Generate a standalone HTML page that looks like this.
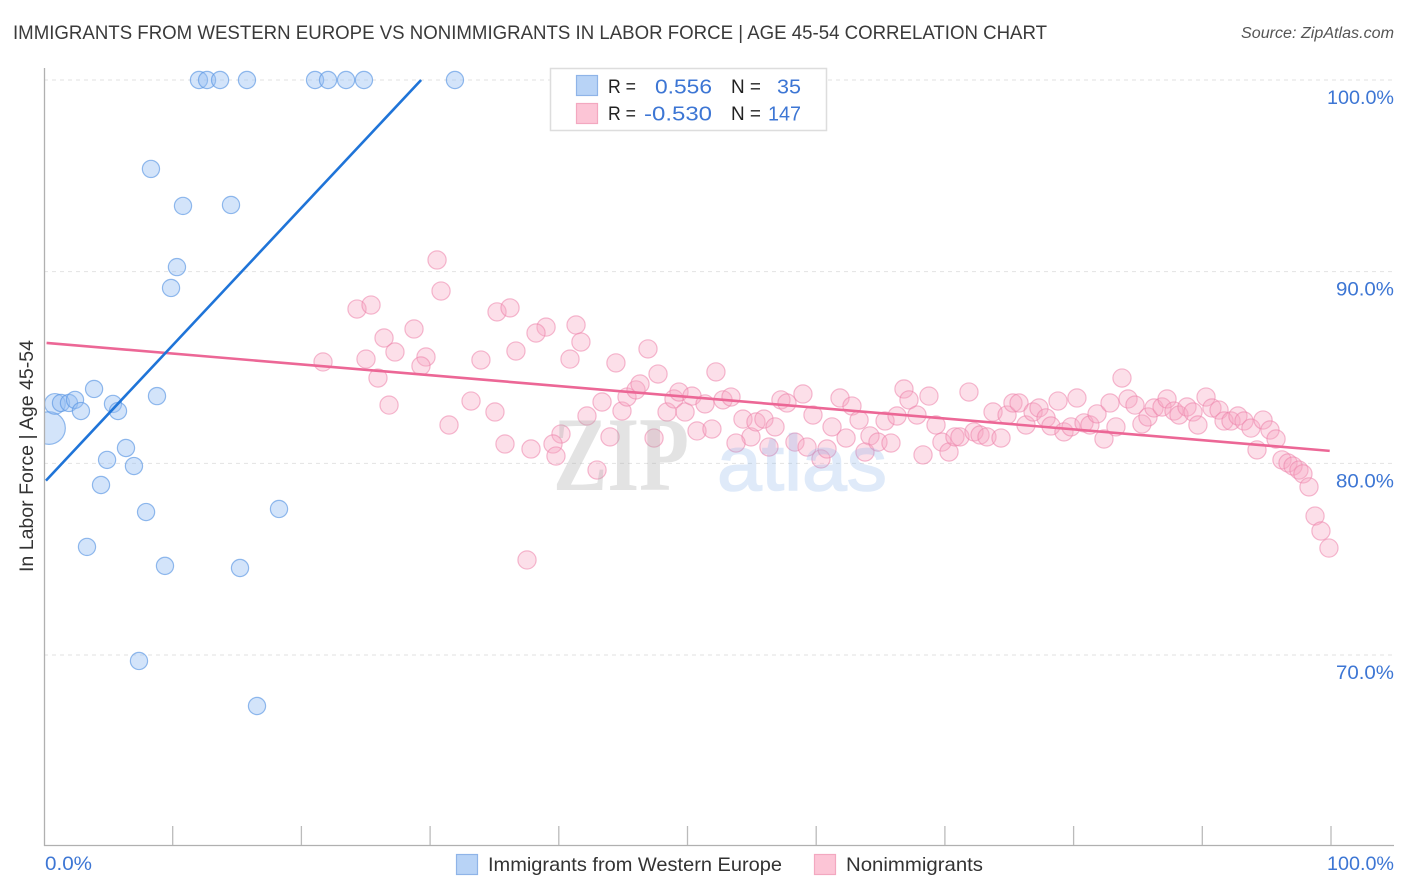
<!DOCTYPE html>
<html>
<head>
<meta charset="utf-8">
<title>Immigrants from Western Europe vs Nonimmigrants in Labor Force Correlation Chart</title>
<style>
html,body{margin:0;padding:0;background:#fff}
svg{display:block;font-family:"Liberation Sans",sans-serif}
</style>
</head>
<body>
<svg id="chart" xmlns="http://www.w3.org/2000/svg" width="1406" height="892" viewBox="0 0 1406 892">
<rect width="1406" height="892" fill="#fff"/>
<g id="grid"></g>
<g id="marks"></g>
<g>
<text x="553" y="490" font-family="'Liberation Serif',serif" font-size="106" font-weight="bold" fill="rgba(170,170,170,0.33)" textLength="136" lengthAdjust="spacingAndGlyphs">ZIP</text>
<text x="717" y="490" font-size="78" fill="#82afeb" stroke="#82afeb" stroke-width="1.5" opacity="0.25" textLength="170" lengthAdjust="spacingAndGlyphs">atlas</text>
</g>
<rect x="0" y="60" width="44" height="790" fill="#fff"/>
<text x="13" y="39" font-size="19.5" fill="#3a3a3a" textLength="1034" lengthAdjust="spacingAndGlyphs">IMMIGRANTS FROM WESTERN EUROPE VS NONIMMIGRANTS IN LABOR FORCE | AGE 45-54 CORRELATION CHART</text>
<text x="1394" y="38" font-size="15.5" font-style="italic" fill="#555" text-anchor="end" textLength="153" lengthAdjust="spacingAndGlyphs">Source: ZipAtlas.com</text>
<g id="axes"></g>
<text transform="translate(33,456) rotate(-90)" font-size="19" fill="#333" text-anchor="middle" textLength="232" lengthAdjust="spacingAndGlyphs">In Labor Force | Age 45-54</text>
<g>
<rect x="550.5" y="68.5" width="276" height="62" fill="#fff" stroke="#ddd" stroke-width="1.5"/>
<rect x="576.5" y="75.5" width="21" height="20" fill="#b8d3f6" stroke="#8fb4e8" stroke-width="1.2"/>
<rect x="576.5" y="103.5" width="21" height="20" fill="#fcc5d6" stroke="#f3a8c0" stroke-width="1.2"/>
<text x="608" y="93" font-size="19" fill="#222" textLength="28" lengthAdjust="spacingAndGlyphs">R =</text>
<text x="655" y="93.5" font-size="20" fill="#3d76d4" textLength="57" lengthAdjust="spacingAndGlyphs">0.556</text>
<text x="731" y="93" font-size="19" fill="#222" textLength="30" lengthAdjust="spacingAndGlyphs">N =</text>
<text x="777" y="93.5" font-size="20" fill="#3d76d4" textLength="24" lengthAdjust="spacingAndGlyphs">35</text>
<text x="608" y="120" font-size="19" fill="#222" textLength="28" lengthAdjust="spacingAndGlyphs">R =</text>
<text x="644" y="120.5" font-size="20" fill="#3d76d4" textLength="68" lengthAdjust="spacingAndGlyphs">-0.530</text>
<text x="731" y="120" font-size="19" fill="#222" textLength="30" lengthAdjust="spacingAndGlyphs">N =</text>
<text x="768" y="120.5" font-size="20" fill="#3d76d4" textLength="33" lengthAdjust="spacingAndGlyphs">147</text>
</g>
<g>
<rect x="456.5" y="854.5" width="21" height="20" fill="#b8d3f6" stroke="#8fb4e8" stroke-width="1.2"/>
<text x="488" y="871" font-size="19.5" fill="#333" textLength="294" lengthAdjust="spacingAndGlyphs">Immigrants from Western Europe</text>
<rect x="814.5" y="854.5" width="21" height="20" fill="#fcc5d6" stroke="#f3a8c0" stroke-width="1.2"/>
<text x="846" y="871" font-size="19.5" fill="#333" textLength="137" lengthAdjust="spacingAndGlyphs">Nonimmigrants</text>
</g>
</svg>
<script>
var blueX = [0.39,0.85,1.32,1.94,2.41,2.87,3.89,5.36,5.75,8.78,6.37,4.90,6.99,4.43,7.93,18.26,3.34,9.40,15.23,7.38,16.55,8.31,10.80,14.53,10.33,9.87,12.04,12.67,13.68,15.77,21.06,22.07,23.47,24.86,31.93];
var blueY = [81.84,83.10,83.15,83.15,83.31,82.73,83.88,83.10,82.73,83.51,80.80,80.18,79.86,78.87,77.46,77.62,75.64,74.65,74.54,69.69,67.34,95.36,93.43,93.48,90.24,89.15,100,100,100,100,100,100,100,100,100];
var blueWeight = [3.6,1.45,1,1,1,1,1,1,1,1,1,1,1,1,1,1,1,1,1,1,1,1,1,1,1,1,1,1,1,1,1,1,1,1,1];
var pinkX = [30.54,30.85,24.32,25.41,35.20,36.21,28.75,39.01,38.23,41.34,26.42,41.72,27.27,21.68,25.02,29.68,29.29,33.95,36.67,40.87,44.44,46.93,25.95,26.81,33.18,35.04,31.47,35.82,37.84,40.17,39.55,39.78,37.53,42.19,43.36,43.98,42.97,44.91,45.30,46.00,46.31,47.40,47.71,48.41,48.95,49.34,49.81,50.35,51.36,50.74,51.90,52.21,52.76,53.38,54.31,54.93,53.77,55.32,55.94,56.33,56.80,57.26,57.73,58.97,58.35,59.29,60.37,60.84,59.75,61.23,61.85,62.32,62.78,63.33,64.18,63.79,64.80,65.35,65.81,66.28,66.82,67.21,67.83,68.76,69.31,69.77,70.32,68.30,70.78,71.17,71.87,72.26,72.73,73.27,74.36,73.74,74.83,75.29,75.76,76.30,76.85,77.31,77.86,78.24,78.79,79.25,79.80,80.26,80.81,81.27,81.82,82.36,82.83,83.29,83.76,84.23,84.77,85.31,85.78,86.25,86.87,87.26,87.80,88.19,88.81,89.28,89.66,90.29,90.75,91.30,91.69,92.23,92.77,93.24,93.78,94.72,94.25,95.26,95.73,96.19,96.66,97.05,97.51,97.82,98.29,98.76,99.22,99.84];
var pinkY = [90.61,88.99,88.05,88.26,87.90,88.11,87.01,87.11,86.80,87.22,86.54,86.33,85.81,85.29,85.44,85.55,85.08,85.39,85.86,85.44,85.24,85.97,84.45,83.04,83.25,82.68,82.00,81.01,80.75,81.53,81.01,80.38,74.96,82.47,83.20,81.38,79.65,82.73,83.46,83.83,84.14,81.32,84.66,82.68,83.36,83.72,82.68,83.51,83.10,81.69,81.79,84.77,83.31,83.46,82.31,81.38,81.06,82.16,82.31,80.85,81.90,83.31,83.15,83.62,81.11,80.85,80.23,80.75,82.52,81.90,83.41,81.32,82.99,82.26,81.43,80.59,81.11,82.21,81.06,82.47,83.88,83.31,82.52,83.51,82.00,81.11,80.59,80.44,81.38,81.38,83.72,81.64,81.48,81.38,81.32,82.68,82.52,83.15,83.15,82.00,82.68,82.89,82.37,81.95,83.25,81.64,81.90,83.41,82.11,82.00,82.58,81.27,83.15,81.90,84.45,83.36,83.04,82.05,82.42,82.89,82.94,83.36,82.73,82.52,82.94,82.68,82.00,83.46,82.89,82.78,82.21,82.21,82.47,82.21,81.84,82.26,80.70,81.74,81.27,80.18,80.02,79.86,79.65,79.45,78.77,77.25,76.47,75.58];
var blueTrendX = [0.15,29.3];
var blueTrendY = [79.1,100];
var pinkTrendX = [0.2,99.9];
var pinkTrendY = [86.28,80.65];
var yTicks = [100,90,80,70];
var yTickLabels = ["100.0%","90.0%","80.0%","70.0%"];
var xTicks = [0,10,20,30,40,50,60,70,80,90,100];
var xEndTicks = [0,100];
var xEndLabels = ["0.0%","100.0%"];

function xScale(v){ return 44 + v * 12.87; }
function yScale(v){ return 80 + (100 - v) * 19.167; }
var NS = "http://www.w3.org/2000/svg";
function make(tag, parent, attrs){
  var el = document.createElementNS(NS, tag);
  for (var k in attrs) el.setAttribute(k, attrs[k]);
  parent.appendChild(el);
  return el;
}
var grid = document.getElementById("grid");
var axes = document.getElementById("axes");
var marks = document.getElementById("marks");

yTicks.forEach(function(t, i){
  var line = make("line", grid, {x1:44, x2:1394, y1:yScale(t), y2:yScale(t), stroke:"#e2e2e2", "stroke-width":1, "stroke-dasharray":"4 4"});
  
  
  var label = make("text", axes, {x:1394, y:yScale(t) + 24, "font-size":19.5, fill:"#3d76d4", "text-anchor":"end", textLength: i === 0 ? 67 : 58, lengthAdjust:"spacingAndGlyphs"});
  label.textContent = yTickLabels[i];
  
  
});

var yAxis = make("line", axes, {x1:44.5, x2:44.5, y1:68, y2:846, stroke:"#b0b0b0", "stroke-width":1.3});


var xAxis = make("line", axes, {x1:44, x2:1394, y1:845.5, y2:845.5, stroke:"#b0b0b0", "stroke-width":1.3});



xTicks.forEach(function(t){
  if (t === 0) return;
  var tick = make("line", axes, {x1:xScale(t), x2:xScale(t), y1:826, y2:845, stroke:"#bbb", "stroke-width":1.3});
  
  
});
xEndTicks.forEach(function(t, i){
  var label = make("text", axes, {x: i === 0 ? xScale(t) + 1 : 1394, y:870, "font-size":19.5, fill:"#3d76d4", "text-anchor": i === 0 ? "start" : "end", textLength: i === 0 ? 47 : 67, lengthAdjust:"spacingAndGlyphs"});
  label.textContent = xEndLabels[i];
  
  
});

pinkX.forEach(function(v, i){
  var c = make("circle", marks, {cx:xScale(v), cy:yScale(pinkY[i]), r:9.1, fill:"rgba(248,165,193,0.36)", stroke:"rgba(236,130,170,0.55)", "stroke-width":1.2});
  
  
});
blueX.forEach(function(v, i){
  var c = make("circle", marks, {cx:xScale(v), cy:yScale(blueY[i]), r:8.6 * Math.sqrt(blueWeight[i]), fill:"rgba(150,190,243,0.42)", stroke:"rgba(90,150,228,0.65)", "stroke-width":1.2});
  
  
});
var pinkTrend = make("line", marks, {x1:xScale(pinkTrendX[0]), y1:yScale(pinkTrendY[0]), x2:xScale(pinkTrendX[1]), y2:yScale(pinkTrendY[1]), stroke:"#ec6796", "stroke-width":2.6});


var blueTrend = make("line", marks, {x1:xScale(blueTrendX[0]), y1:yScale(blueTrendY[0]), x2:xScale(blueTrendX[1]), y2:yScale(blueTrendY[1]), stroke:"#1f74d8", "stroke-width":2.6});


</script>
</body>
</html>
